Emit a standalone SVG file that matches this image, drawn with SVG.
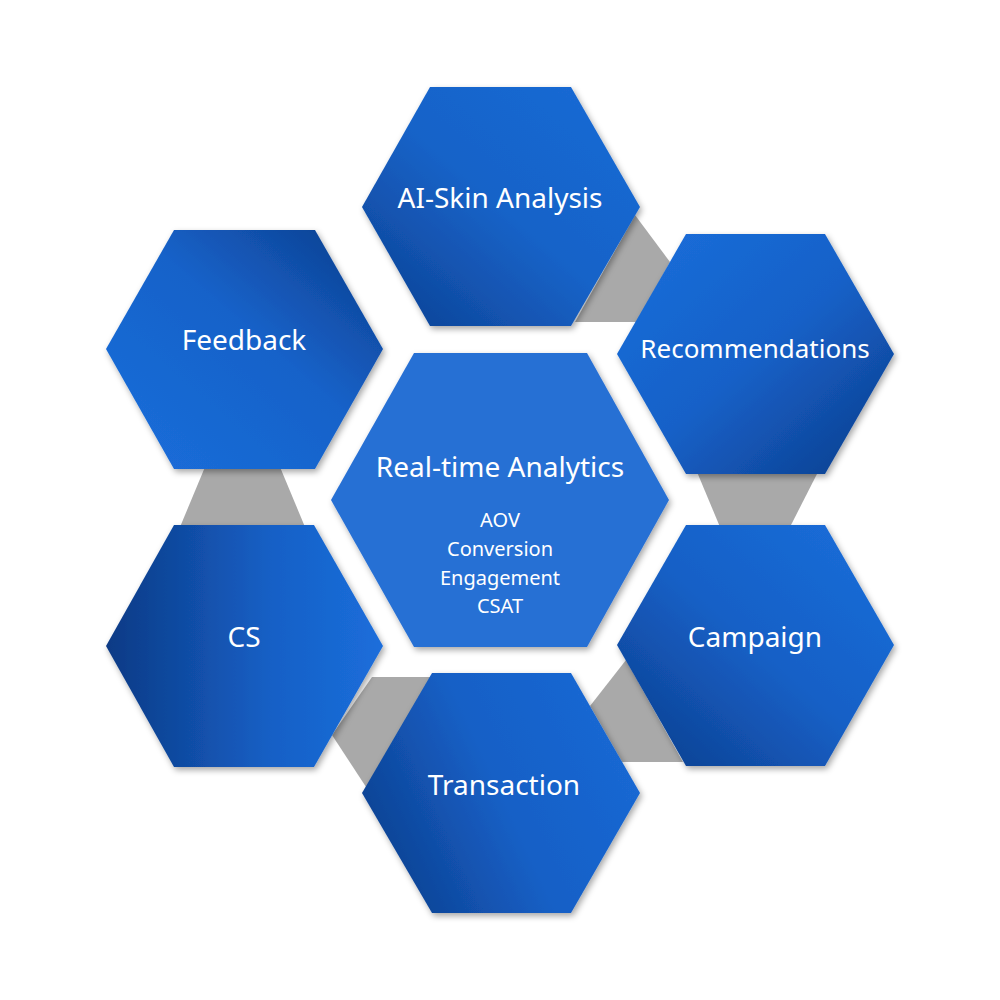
<svg xmlns="http://www.w3.org/2000/svg" width="1000" height="1000" viewBox="0 0 1000 1000">
<defs>
<filter id="sh" x="-20%" y="-20%" width="140%" height="140%"><feDropShadow dx="2" dy="3" stdDeviation="3" flood-color="#000" flood-opacity="0.35"/></filter>
<linearGradient id="gAI" x1="1" y1="0" x2="0" y2="1"><stop offset="0" stop-color="#1a6ad6"/><stop offset="0.5" stop-color="#1763c8"/><stop offset="1" stop-color="#0c3f90"/></linearGradient>
<linearGradient id="gFB" x1="0" y1="1" x2="1" y2="0"><stop offset="0" stop-color="#1b6edb"/><stop offset="0.55" stop-color="#1662c9"/><stop offset="1" stop-color="#0c3c8a"/></linearGradient>
<linearGradient id="gRC" x1="0" y1="0" x2="1" y2="1"><stop offset="0" stop-color="#1b6edb"/><stop offset="0.5" stop-color="#1661c8"/><stop offset="1" stop-color="#0c3c8a"/></linearGradient>
<linearGradient id="gCS" x1="0" y1="0" x2="1" y2="0"><stop offset="0" stop-color="#0c3a85"/><stop offset="0.6" stop-color="#1660c6"/><stop offset="1" stop-color="#1b6edb"/></linearGradient>
<linearGradient id="gCP" x1="1" y1="0" x2="0" y2="1"><stop offset="0" stop-color="#1b6edb"/><stop offset="0.5" stop-color="#1660c6"/><stop offset="1" stop-color="#0c3c8a"/></linearGradient>
<linearGradient id="gTR" x1="0" y1="0.7" x2="1" y2="0.3"><stop offset="0" stop-color="#0d4090"/><stop offset="0.5" stop-color="#1660c6"/><stop offset="1" stop-color="#1a68d4"/></linearGradient>
</defs>
<style>
.lbl{font-family:"Source Sans Pro","Noto Sans","Open Sans",sans-serif;fill:#fff;font-size:28px;text-anchor:middle}
.sub{font-family:"Source Sans Pro","Noto Sans","Open Sans",sans-serif;fill:#fff;font-size:20px;text-anchor:middle}
.con{fill:#a9a9a9}
.hex{filter:url(#sh)}
</style>
<rect width="1000" height="1000" fill="#fff"/>
<g id="connectors">
<polygon class="con" points="635,215 670,262 637,322 575,322"/>
<polygon class="con" points="697,472 818,472 790,527 720,527"/>
<polygon class="con" points="626,660 683,762 622,762 590,706"/>
<polygon class="con" points="372,677 432,677 368,790 332,735"/>
<polygon class="con" points="205,467 280,467 305,527 180,527"/>
</g>
<g id="ai-skin"><polygon class="hex" fill="url(#gAI)" points="430,87 571,87 640,207 571,326 430,326 362,207"/><text class="lbl" x="500" y="208">AI-Skin Analysis</text></g>
<g id="feedback"><polygon class="hex" fill="url(#gFB)" points="174,230 315,230 383,349 315,469 174,469 106,349"/><text class="lbl" x="244" y="350">Feedback</text></g>
<g id="recommendations"><polygon class="hex" fill="url(#gRC)" points="686,234 825,234 894,354 825,474 686,474 617,354"/><text class="lbl" x="755" y="358" style="font-size:26px">Recommendations</text></g>
<g id="center"><polygon class="hex" fill="#2870d4" points="414,353 587,353 669,500 587,647 414,647 331,500"/><text class="lbl" x="500" y="477">Real-time Analytics</text><text class="sub" x="500" y="527">AOV</text><text class="sub" x="500" y="556">Conversion</text><text class="sub" x="500" y="585">Engagement</text><text class="sub" x="500" y="613">CSAT</text></g>
<g id="cs"><polygon class="hex" fill="url(#gCS)" points="174,525 314,525 383,646 314,767 174,767 106,646"/><text class="lbl" x="244" y="647">CS</text></g>
<g id="campaign"><polygon class="hex" fill="url(#gCP)" points="686,525 825,525 894,645 825,766 686,766 617,645"/><text class="lbl" x="755" y="647">Campaign</text></g>
<g id="transaction"><polygon class="hex" fill="url(#gTR)" points="432,673 571,673 640,793 571,913 432,913 362,793"/><text class="lbl" x="504" y="795">Transaction</text></g>
</svg>
